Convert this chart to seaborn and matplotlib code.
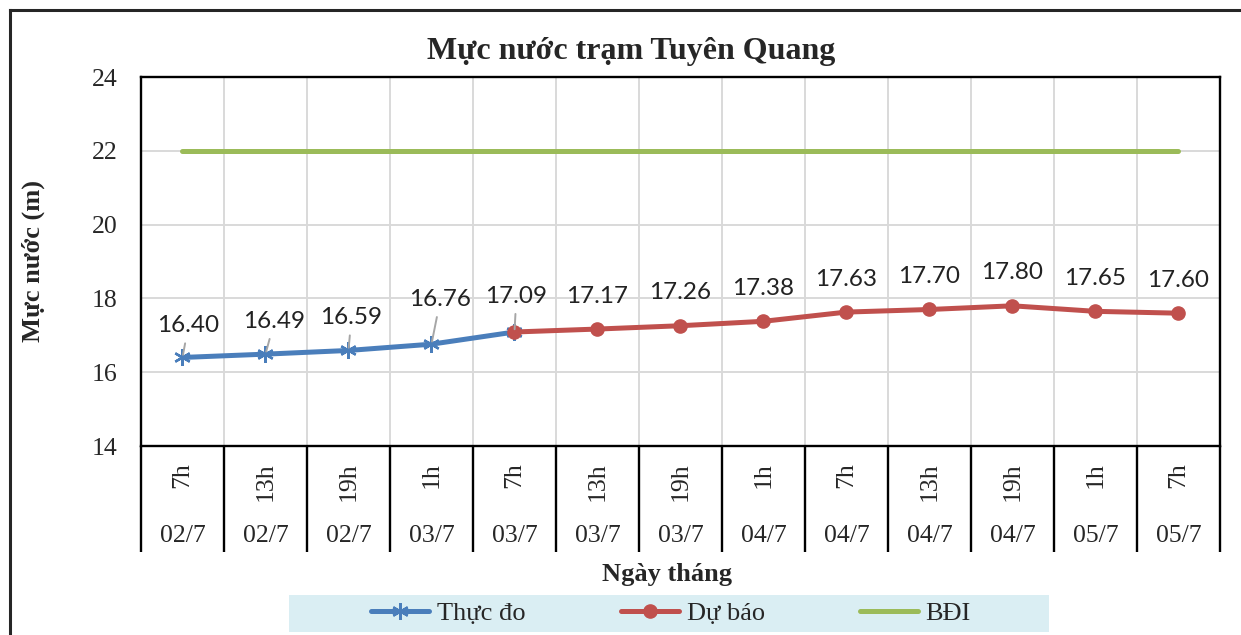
import numpy as np
import pandas as pd
import matplotlib
matplotlib.use('Agg')
import matplotlib.pyplot as plt
import matplotlib.transforms as mtransforms
from matplotlib.patches import Rectangle
from matplotlib.lines import Line2D
import seaborn as sns

# Dữ liệu
gio = ['7h', '13h', '19h', '1h', '7h', '13h', '19h', '1h', '7h', '13h', '19h', '1h', '7h']
ngay = ['02/7', '02/7', '02/7', '03/7', '03/7', '03/7', '03/7',
        '04/7', '04/7', '04/7', '04/7', '05/7', '05/7']
thuc_do = [16.40, 16.49, 16.59, 16.76, 17.09]
du_bao = [17.09, 17.17, 17.26, 17.38, 17.63, 17.70, 17.80, 17.65, 17.60]
bdi = [22, 22, 22, 22, 22, 22, 22, 22, 22, 22, 22, 22, 22]

# vị trí nhãn số liệu (pixel so với điểm)
nhan_thuc_do = [(6, 32), (9, 33), (3, 33), (9, 45), (2, 36)]
nhan_du_bao_dy = 33

XANH = '#4A7EBB'
DO = '#C0504D'
LUC = '#9BBB59'

sns.set_style('white')
plt.rcParams['font.family'] = ['Liberation Serif', 'DejaVu Serif']

n = len(gio)
df_td = pd.DataFrame({'x': np.arange(len(thuc_do)), 'muc': thuc_do})
df_db = pd.DataFrame({'x': np.arange(n - len(du_bao), n), 'muc': du_bao})
df_bdi = pd.DataFrame({'x': np.arange(n), 'muc': bdi})

fig = plt.figure(figsize=(12.41, 6.35), dpi=100)
ax = fig.add_axes([0.1136, 0.2976, 0.8694, 0.5811])

sns.lineplot(data=df_bdi, x='x', y='muc', ax=ax, color=LUC, lw=3.6,
             solid_capstyle='round', label='BĐI')
sns.lineplot(data=df_td, x='x', y='muc', ax=ax, color=XANH, lw=3.6,
             marker=(6, 2, 0), markersize=12, mec=XANH, mew=1.7, label='Thực đo')
sns.lineplot(data=df_db, x='x', y='muc', ax=ax, color=DO, lw=3.6,
             marker='o', markersize=9.5, mec=DO, mew=1, label='Dự báo')

ax.set_xlim(-0.5, n - 0.5)
ax.set_ylim(14, 24)
ax.set_yticks(np.arange(14, 25, 2))
ax.set_xticks([])
ax.set_xticks(np.arange(-0.5, n, 1), minor=True)
ax.tick_params(axis='both', which='both', length=0)
ax.tick_params(axis='y', labelsize=18.5, pad=17)
ax.grid(True, axis='y', color='#D9D9D9', lw=1.4)
ax.grid(True, axis='x', which='minor', color='#D9D9D9', lw=1.4)
ax.set_axisbelow(True)
ax.set_xlabel('')
ax.set_ylabel('')
for sp in ax.spines.values():
    sp.set_color('black')
    sp.set_linewidth(1.7)
ax.get_legend().remove()

# nhãn trục phân loại hai tầng
trans = mtransforms.blended_transform_factory(ax.transData, ax.transAxes)
for b in np.arange(-0.5, n, 1):
    ax.plot([b, b], [0, -0.287], transform=trans, color='black', lw=1.7,
            clip_on=False, solid_capstyle='butt')
for i in range(n):
    ax.text(i, -0.043, gio[i], transform=trans, rotation=90, ha='center',
            va='top', fontsize=18.5)
    ax.text(i, -0.244, ngay[i], transform=trans, ha='center', va='center',
            fontsize=18.5)

# nhãn số liệu
for i, v in enumerate(thuc_do):
    dx, dy = nhan_thuc_do[i]
    ax.annotate(f'{v:.2f}', xy=(df_td['x'][i], v), xytext=(dx, dy),
                textcoords='offset pixels', ha='center', va='center',
                fontsize=17.5, family='Lato', color='#222222',
                arrowprops=dict(arrowstyle='-', color='#A6A6A6', lw=1.4,
                                shrinkA=3, shrinkB=2))
for i, v in enumerate(du_bao[1:], start=1):
    ax.annotate(f'{v:.2f}', xy=(df_db['x'][i], v), xytext=(0, nhan_du_bao_dy),
                textcoords='offset pixels', ha='center', va='center',
                fontsize=17.5, family='Lato', color='#222222')

fig.text(631 / 1241, 1 - 51 / 635, 'Mực nước trạm Tuyên Quang', ha='center',
         va='center', fontsize=23, fontweight='bold')
fig.text(33 / 1241, 1 - 261 / 635, 'Mực nước (m)', ha='center', va='center',
         rotation=90, fontsize=19, fontweight='bold')
fig.text(667 / 1241, 1 - 574 / 635, 'Ngày tháng', ha='center', va='center',
         fontsize=19, fontweight='bold')

# chú giải
fig.patches.append(Rectangle((288.5 / 1241, 1 - 632 / 635), 760.5 / 1241, 37 / 635,
                             transform=fig.transFigure, facecolor='#DAEEF3',
                             edgecolor='none', zorder=0))
handles, labels = ax.get_legend_handles_labels()
order = [labels.index('Thực đo'), labels.index('Dự báo'), labels.index('BĐI')]
fig.legend([handles[k] for k in order], [labels[k] for k in order],
           loc='center', bbox_to_anchor=(671 / 1241, 1 - 613 / 635), ncol=3,
           frameon=False, fontsize=19, handlelength=2.2, handletextpad=0.3,
           columnspacing=3.6, borderpad=0)

# khung ngoài (chỉ cạnh trên và cạnh trái)
x0, y0 = 9.5 / 1241, 1 - 9.5 / 635
fig.add_artist(Line2D([x0, 1.01], [y0, y0], transform=fig.transFigure,
                      color='#262626', lw=2.2, solid_capstyle='projecting'))
fig.add_artist(Line2D([x0, x0], [y0, -0.01], transform=fig.transFigure,
                      color='#262626', lw=2.2, solid_capstyle='projecting'))

fig.savefig('out.png', dpi=100)
